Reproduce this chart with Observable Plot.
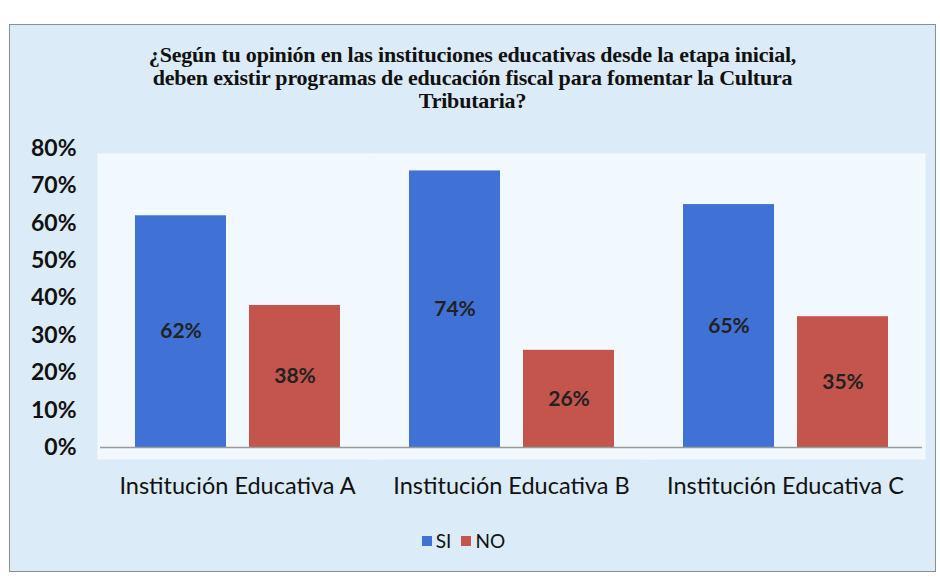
<!DOCTYPE html>
<html>
<head>
<meta charset="utf-8">
<script src="https://cdn.jsdelivr.net/npm/d3@7"></script>
<script src="https://cdn.jsdelivr.net/npm/@observablehq/plot@0.6"></script>
<style>
  html, body { margin: 0; padding: 0; background: #ffffff; }
  #page { position: relative; width: 940px; height: 577px; overflow: hidden; }
  #frame { position: absolute; left: 9px; top: 24px; width: 925px; height: 546px;
           border: 1px solid #8a8f94; background: #dbecf8; }
  #title { padding-top: 18px; text-align: center; font-family: "Liberation Serif", serif;
           font-weight: bold; font-size: 22px; line-height: 23px; color: #111; height: 69px; letter-spacing: -0.2px; }
  #chart svg { display: block; }
  #legend { display: flex; justify-content: center; align-items: center; gap: 10px; padding-top: 22px;
            font-family: Lato, sans-serif; font-size: 19px; color: #111; margin-left: -18px; }
  .sw { display: inline-block; width: 10px; height: 10px; margin-right: 4px; }
  .item { display: flex; align-items: center; }
</style>
</head>
<body>
<div id="page">
  <div id="frame">
    <div id="title"></div>
    <div id="chart"></div>
    <div id="legend"></div>
  </div>
</div>
<script>
const titleLines = [
  "¿Según tu opinión en las instituciones educativas desde la etapa inicial,",
  "deben existir programas de educación fiscal para fomentar la Cultura",
  "Tributaria?"
];
const institutions = ["Institución Educativa A", "Institución Educativa B", "Institución Educativa C"];
const responses = ["SI", "NO"];
const siValues = [62, 74, 65];
const noValues = [38, 26, 35];
const yTicks = [0, 10, 20, 30, 40, 50, 60, 70, 80];
const colors = ["#3f72d4", "#c4554d"];

const data = [];
institutions.forEach((inst, i) => {
  data.push({inst, resp: "SI", value: siValues[i]});
  data.push({inst, resp: "NO", value: noValues[i]});
});

document.getElementById("title").innerHTML = titleLines.join("<br>");

const chart = Plot.plot({
  width: 925,
  height: 395,
  marginTop: 36,
  marginBottom: 60,
  marginLeft: 90,
  marginRight: 13,
  style: { background: "transparent", fontFamily: "Lato, sans-serif", color: "#111" },
  fx: { domain: institutions, padding: 0, label: null },
  x: { domain: responses, paddingInner: 0.2018, paddingOuter: 0.3026, axis: null },
  y: { domain: [0, 80], ticks: yTicks, label: null },
  color: { domain: responses, range: colors },
  marks: [
    Plot.frame({ fill: "#f2f9fe", stroke: null, insetLeft: -3, insetRight: -3, insetTop: 5, insetBottom: -12, facetAnchor: null }),
    Plot.barY(data, { fx: "inst", x: "resp", y: "value", fill: "resp" }),
    Plot.ruleY([0], { stroke: "#9a9a9a", strokeWidth: 1.5 }),
    Plot.text(data, { fx: "inst", x: "resp", y: d => d.value / 2, text: d => d.value + "%",
                      fontSize: 21, fontWeight: "bold", fill: "#222" }),
    Plot.axisY({ ticks: yTicks, tickFormat: d => d + "%", tickSize: 0, tickPadding: 24,
                 fontSize: 23, fontWeight: "bold", label: null }),
    Plot.axisFx({ anchor: "bottom", tickSize: 0, tickPadding: 30, fontSize: 23.5, label: null })
  ]
});
document.getElementById("chart").appendChild(chart);

const legend = document.getElementById("legend");
responses.forEach((r, i) => {
  const item = document.createElement("span");
  item.className = "item";
  item.innerHTML = `<span class="sw" style="background:${colors[i]}"></span>${r}`;
  legend.appendChild(item);
});
</script>
</body>
</html>
